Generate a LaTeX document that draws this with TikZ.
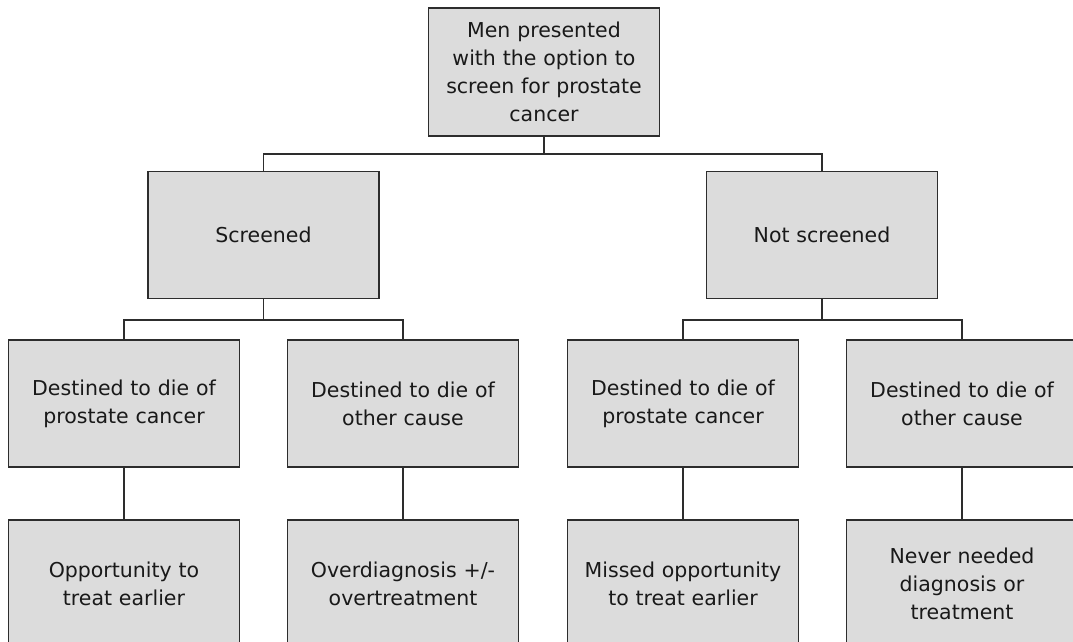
\documentclass[tikz,border=0pt]{standalone}
\usepackage{fontspec}
\setmainfont{DejaVu Sans}
\usepackage{tikz}
\usetikzlibrary{calc}
\definecolor{boxgray}{RGB}{220,220,220}
\definecolor{linegray}{RGB}{45,45,45}
\tikzset{
	box/.style={draw=linegray, fill=boxgray, line width=1.5pt, minimum width=231pt, minimum height=127pt, text width=225pt, align=center, inner sep=0pt, font=\fontsize{20.5}{28}\selectfont, text=black!90},
	link/.style={draw=linegray, line width=1.5pt}
}

\begin{document}
\begin{tikzpicture}[x=1pt, y=-1pt]
		%%%%% START %%%%%
		\useasboundingbox (0, 0) rectangle (1073, 642);
		
		\node[box, minimum height=128pt] (men) at (544, 72) {Men presented\\with the option to\\screen for prostate\\cancer};
		
		\node[box] (scr) at (263.5, 235) {Screened};
		\node[box] (nscr) at (822, 235) {Not screened};
		
		\node[box] (scrdie) at (124, 403.5) {Destined to die of\\prostate cancer};
		\node[box] (scroth) at (403, 403.5) {Destined to die of\\other cause};
		\node[box] (nscrdie) at (683, 403.5) {Destined to die of\\prostate cancer};
		\node[box] (nscroth) at (962, 403.5) {Destined to die of\\other cause};
		
		\node[box] (early) at (124, 583.5) {Opportunity to\\treat earlier};
		\node[box] (over) at (403, 583.5) {Overdiagnosis +/-\\overtreatment};
		\node[box] (missed) at (683, 583.5) {Missed opportunity\\to treat earlier};
		\node[box] (never) at (962, 583.5) {Never needed\\diagnosis or\\treatment};
		
		\coordinate (bartop) at (0, 154);
		\coordinate (barmid) at (0, 320);
		
		\draw[link] (men.south) -- (men.south |- bartop);
		\draw[link] (scr.north) |- (men.south |- bartop) -| (nscr.north);
		
		\draw[link] (scr.south) -- (scr.south |- barmid);
		\draw[link] (scrdie.north) |- (scr.south |- barmid) -| (scroth.north);
		\draw[link] (nscr.south) -- (nscr.south |- barmid);
		\draw[link] (nscrdie.north) |- (nscr.south |- barmid) -| (nscroth.north);
		
		\draw[link] (scrdie) -- (early);
		\draw[link] (scroth) -- (over);
		\draw[link] (nscrdie) -- (missed);
		\draw[link] (nscroth) -- (never);
		%%%%% END %%%%%
\end{tikzpicture}
\end{document}
